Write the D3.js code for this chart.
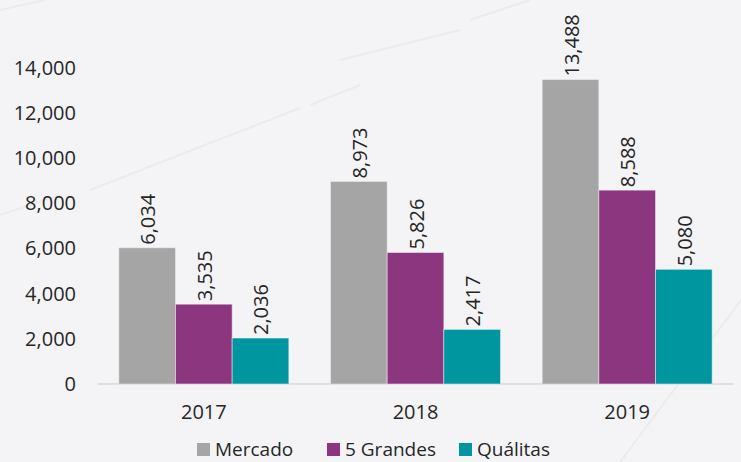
<!DOCTYPE html>
<html>
<head>
<meta charset="utf-8">
<script src="https://cdn.jsdelivr.net/npm/d3@7"></script>
<style>
  body { margin: 0; background: #f4f4f6; }
  svg { display: block; font-family: "Open Sans", sans-serif; }
</style>
</head>
<body>
<svg id="chart" width="741" height="462"></svg>
<script>
// data
const years = ["2017", "2018", "2019"];
const seriesNames = ["Mercado", "5 Grandes", "Quálitas"];
const mercado = [6034, 8973, 13488];
const cincoGrandes = [3535, 5826, 8588];
const qualitas = [2036, 2417, 5080];
const yTicks = [0, 2000, 4000, 6000, 8000, 10000, 12000, 14000];

const colors = ["#a5a5a5", "#8c3680", "#00969f"];
const values = [mercado, cincoGrandes, qualitas];

const svg = d3.select("#chart");
const width = +svg.attr("width");
const height = +svg.attr("height");
const margin = { top: 68, right: 8, bottom: 78, left: 98 };

// faint decorative streaks in the background
const streaks = [
  [[90, 190], [300, 108]],
  [[310, 105], [360, 85]],
  [[0, 215], [60, 195]],
  [[340, 60], [460, 30]],
  [[470, 20], [530, 0]],
  [[620, 462], [741, 300]],
  [[0, 10], [45, 0]]
];
svg.append("g").selectAll("line")
  .data(streaks)
  .enter().append("line")
  .attr("x1", d => d[0][0]).attr("y1", d => d[0][1])
  .attr("x2", d => d[1][0]).attr("y2", d => d[1][1])
  .attr("stroke", "#ebebee")
  .attr("stroke-width", 2);

const x0 = d3.scaleBand()
  .domain(years)
  .range([margin.left, width - margin.right])
  .paddingInner(0.197)
  .paddingOuter(0.0985);

const x1 = d3.scaleBand()
  .domain(seriesNames)
  .range([0, x0.bandwidth()]);

const y = d3.scaleLinear()
  .domain([0, 14000])
  .range([height - margin.bottom, margin.top]);

const fmt = d3.format(",");

// y axis labels (no line, no ticks)
const yAxis = svg.append("g")
  .attr("transform", `translate(${margin.left - 22},0)`)
  .call(d3.axisLeft(y).tickValues(yTicks).tickFormat(fmt).tickSize(0).tickPadding(0));
yAxis.select(".domain").remove();
yAxis.selectAll("text")
  .attr("fill", "#262626")
  .style("font-size", "20px")
  .style("font-family", "'Open Sans', sans-serif");

// baseline
svg.append("line")
  .attr("x1", margin.left).attr("x2", width - 8)
  .attr("y1", y(0)).attr("y2", y(0))
  .attr("stroke", "#d9d9d9")
  .attr("stroke-width", 1.5);

// x axis labels
const xAxis = svg.append("g")
  .attr("transform", `translate(0,${y(0)})`)
  .call(d3.axisBottom(x0).tickSize(0).tickPadding(21));
xAxis.select(".domain").remove();
xAxis.selectAll("text")
  .attr("fill", "#262626")
  .style("font-size", "20px")
  .style("font-family", "'Open Sans', sans-serif");

// bars
const groups = svg.append("g").selectAll("g")
  .data(years)
  .enter().append("g")
  .attr("transform", d => `translate(${x0(d)},0)`);

const cells = groups.selectAll("g")
  .data((yr, i) => seriesNames.map((s, k) => ({ series: s, k: k, value: values[k][i] })))
  .enter().append("g");

cells.append("rect")
  .attr("x", d => x1(d.series))
  .attr("y", d => y(d.value))
  .attr("width", x1.bandwidth())
  .attr("height", d => y(0) - y(d.value))
  .attr("fill", d => colors[d.k])
  .attr("stroke", "#f4f4f6")
  .attr("stroke-opacity", 0.5)
  .attr("stroke-width", 1);

cells.append("text")
  .attr("transform", d => `translate(${x1(d.series) + x1.bandwidth() / 2 + 1},${y(d.value) - 3}) rotate(-90)`)
  .attr("dy", "0.35em")
  .attr("text-anchor", "start")
  .attr("fill", "#262626")
  .style("font-size", "20px")
  .text(d => fmt(d.value));

// legend
const legendItems = [
  { name: seriesNames[0], x: 197 },
  { name: seriesNames[1], x: 327 },
  { name: seriesNames[2], x: 459 }
];
const legend = svg.append("g").selectAll("g")
  .data(legendItems)
  .enter().append("g")
  .attr("transform", d => `translate(${d.x},443)`);
legend.append("rect")
  .attr("width", 13).attr("height", 13)
  .attr("fill", (d, i) => colors[i]);
legend.append("text")
  .attr("x", 18).attr("y", 6.5)
  .attr("dy", "0.35em")
  .attr("fill", "#262626")
  .style("font-size", "19px")
  .text(d => d.name);
</script>
</body>
</html>
